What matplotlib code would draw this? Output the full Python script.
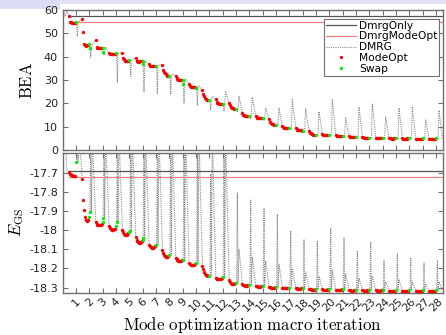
import matplotlib
matplotlib.use('Agg')
import matplotlib.pyplot as plt
import numpy as np
from matplotlib.lines import Line2D
from matplotlib.patches import Rectangle

plt.rcParams['mathtext.fontset'] = 'cm'
plt.rcParams['axes.unicode_minus'] = False
plt.rcParams['font.family'] = ['DejaVu Sans']

# ---------------- data ----------------
iterations = list(range(1, 29))
x_tick_labels = [str(k) for k in iterations]

bea_dmrg_only = 57.5
bea_dmrg_modeopt = 54.7
e_dmrg_only = -17.69
e_dmrg_modeopt = -17.724

bea_init_dmrg = [60.5, 57.2, 59.5, 57.5]
e_init_dmrg = [-17.5, -17.5, -17.686, -17.695]

bea_modeopt = [
    [57.5, 54.7, 54.7, 54.6, 54.6, 54.6, 54.6, 54.6],
    [56.1, 50.6, 45.6, 45.0, 44.6, 44.8, 45.0, 45.2],
    [47.2, 44.0, 43.8, 43.7, 43.7, 43.8, 43.8, 43.9],
    [41.7, 41.3, 41.1, 41.0, 41.1, 41.2, 41.3, 41.3],
    [41.7, 39.5, 38.8, 38.3, 38.1, 38.1, 38.2, 38.3],
    [39.4, 38.3, 38.0, 37.9, 37.9, 38.0, 38.0, 38.1],
    [36.8, 36.2, 35.9, 35.8, 35.8, 35.9, 35.9, 36.0],
    [36.3, 34.5, 33.5, 32.8, 32.4, 32.1, 31.9, 31.9],
    [31.9, 30.8, 30.3, 30.1, 30.0, 30.0, 30.1, 30.2],
    [28.1, 27.3, 27.0, 26.9, 26.9, 26.9, 27.0, 27.0],
    [25.6, 24.0, 23.0, 22.3, 21.9, 21.6, 21.4, 21.3],
    [21.9, 20.6, 20.2, 20.0, 19.9, 19.9, 19.9, 19.9],
    [20.1, 19.2, 18.6, 18.2, 17.9, 17.8, 17.7, 17.6],
    [15.8, 15.1, 14.8, 14.6, 14.5, 14.5, 14.4, 14.4],
    [14.4, 14.0, 13.8, 13.7, 13.7, 13.7, 13.7, 13.7],
    [13.2, 12.2, 11.7, 11.3, 11.1, 11.0, 10.9, 10.8],
    [10.1, 9.7, 9.5, 9.4, 9.4, 9.4, 9.4, 9.4],
    [9.4, 8.9, 8.7, 8.6, 8.5, 8.4, 8.4, 8.3],
    [8.2, 7.5, 7.1, 6.9, 6.7, 6.6, 6.5, 6.5],
    [6.8, 6.6, 6.5, 6.5, 6.5, 6.5, 6.5, 6.5],
    [6.5, 6.2, 6.1, 6.0, 6.0, 6.0, 6.0, 6.0],
    [6.0, 5.7, 5.6, 5.5, 5.5, 5.5, 5.5, 5.5],
    [5.5, 5.4, 5.3, 5.3, 5.3, 5.3, 5.3, 5.3],
    [5.3, 5.3, 5.2, 5.2, 5.2, 5.2, 5.2, 5.2],
    [5.1, 5.0, 5.0, 4.9, 4.9, 4.9, 5.0, 5.0],
    [5.0, 4.9, 4.9, 4.9, 4.9, 4.9, 5.0, 5.0],
    [4.9, 4.8, 4.8, 4.8, 4.8, 4.8, 4.8, 4.9],
    [4.9, 4.8, 4.8, 4.8, 4.8, 4.8, 4.8, 4.9],
]
bea_swap = [
    [54.7], [45.6, 43.9], [43.9, 42.0], [41.4], [38.4], [38.1, 36.7], [36.0],
    [31.9], [30.2, 28.5], [26.6], [21.3], [19.9], [17.6], [14.4], [13.7],
    [10.8], [9.4], [8.3], [6.5], [6.5], [6.0], [5.5], [5.3], [5.3], [5.0],
    [5.1], [5.0], [5.0],
]
bea_dmrg_lo = [48.8, 39.7, 40.5, 29.0, 31.5, 24.7, 24.0, 23.7, 20.0, 19.0,
               17.0, 16.5, 16.5, 13.5, 12.8, 10.0, 8.8, 7.8, 6.0, 6.0,
               5.5, 5.0, 4.8, 4.8, 4.6, 4.6, 4.5, 4.5]
bea_dmrg_hi = [54.7, 45.0, 44.0, 41.5, 39.0, 38.0, 36.5, 32.5, 30.5, 27.5,
               23.0, 25.2, 23.0, 22.7, 18.0, 18.0, 21.6, 17.6, 16.5, 21.6,
               13.7, 18.4, 19.9, 14.1, 18.0, 18.4, 13.2, 17.0]

e_modeopt = [
    [-17.695, -17.708, -17.712, -17.714, -17.715, -17.716, -17.717, -17.717],
    [-17.735, -17.843, -17.895, -17.930, -17.947, -17.952, -17.950, -17.945],
    [-17.960, -17.968, -17.972, -17.974, -17.975, -17.974, -17.972, -17.970],
    [-17.978, -17.988, -17.995, -17.999, -18.000, -17.999, -17.996, -17.992],
    [-17.999, -18.010, -18.018, -18.024, -18.027, -18.026, -18.022, -18.016],
    [-18.037, -18.050, -18.059, -18.064, -18.066, -18.065, -18.062, -18.057],
    [-18.077, -18.084, -18.088, -18.091, -18.092, -18.091, -18.089, -18.085],
    [-18.103, -18.118, -18.128, -18.135, -18.139, -18.140, -18.138, -18.134],
    [-18.147, -18.152, -18.156, -18.159, -18.160, -18.160, -18.159, -18.158],
    [-18.173, -18.178, -18.181, -18.183, -18.184, -18.183, -18.181, -18.178],
    [-18.190, -18.205, -18.218, -18.227, -18.233, -18.237, -18.239, -18.239],
    [-18.251, -18.254, -18.256, -18.257, -18.257, -18.256, -18.254, -18.250],
    [-18.263, -18.270, -18.276, -18.280, -18.282, -18.282, -18.280, -18.277],
    [-18.281, -18.285, -18.288, -18.290, -18.291, -18.290, -18.289, -18.287],
    [-18.291, -18.293, -18.294, -18.295, -18.296, -18.295, -18.293, -18.291],
    [-18.295, -18.298, -18.300, -18.302, -18.303, -18.302, -18.300, -18.299],
    [-18.302, -18.303, -18.304, -18.304, -18.304, -18.304, -18.303, -18.301],
    [-18.303, -18.304, -18.305, -18.306, -18.306, -18.305, -18.304, -18.303],
    [-18.305, -18.308, -18.310, -18.312, -18.312, -18.312, -18.311, -18.310],
    [-18.310, -18.311, -18.312, -18.312, -18.312, -18.312, -18.311, -18.310],
    [-18.311, -18.312, -18.313, -18.313, -18.313, -18.312, -18.311, -18.310],
    [-18.313, -18.315, -18.316, -18.316, -18.316, -18.316, -18.315, -18.313],
    [-18.314, -18.315, -18.316, -18.316, -18.316, -18.316, -18.315, -18.314],
    [-18.314, -18.315, -18.316, -18.316, -18.316, -18.316, -18.315, -18.314],
    [-18.316, -18.317, -18.318, -18.318, -18.318, -18.318, -18.317, -18.316],
    [-18.316, -18.317, -18.318, -18.318, -18.318, -18.318, -18.317, -18.316],
    [-18.316, -18.317, -18.318, -18.318, -18.318, -18.318, -18.317, -18.316],
    [-18.316, -18.317, -18.318, -18.318, -18.318, -18.318, -18.317, -18.316],
]
e_swap = [
    [-17.646], [-17.930, -17.903], [-17.960, -17.938], [-17.978, -17.956],
    [-18.008, -18.003], [-18.050, -18.043], [-18.077], [-18.130], [-18.156],
    [-18.173], [-18.239], [-18.246], [-18.274], [-18.286], [-18.290],
    [-18.298], [-18.300], [-18.302], [-18.309], [-18.309], [-18.309],
    [-18.312], [-18.312], [-18.312], [-18.314], [-18.314], [-18.314], [-18.314],
]
e_dmrg_top1 = [-17.5, -17.5, -17.5, -17.5, -17.5, -17.5, -17.5, -17.5, -17.5,
               -17.5, -17.707, -17.5, -17.804, -17.843, -17.886, -17.916,
               -18.003, -18.048, -18.055, -17.987, -18.041, -18.107, -18.060,
               -18.159, -18.124, -18.142, -18.170, -18.159]
e_dmrg_top2 = [-17.5, -17.5, -17.5, -17.5, -17.5, -17.5, -17.5, -17.5, -17.5,
               -17.5, -17.5, -17.5, -18.10, -18.14, -18.16, -18.18,
               -18.20, -18.22, -18.24, -18.21, -18.23, -18.25, -18.24,
               -18.27, -18.26, -18.27, -18.28, -18.27]

# ---------------- layout / style ----------------
W, H = 446, 335
fig = plt.figure(figsize=(W / 100, H / 100), dpi=100)
fig.patches.append(Rectangle((0, 1 - 3.5 / H), 1, 3.5 / H, transform=fig.transFigure,
                             facecolor='#e2e2f6', edgecolor='none', zorder=-5))
fig.patches.append(Rectangle((0, 1 - 9 / H), 60 / W, 9 / H, transform=fig.transFigure,
                             facecolor='#dcdcf4', edgecolor='none', zorder=-5))

ax1 = fig.add_axes([62.7 / W, 1 - 150 / H, 380 / W, 140 / H])
ax2 = fig.add_axes([62.7 / W, 1 - 293.3 / H, 380 / W, 140.8 / H])

c_spine = '#707070'
c_dmrgonly = '#555555'
c_dmrgmode = '#f08080'
c_dmrg = '#8c8c8c'
c_red = '#ff0000'
c_green = '#00ee00'

mode_offsets = np.linspace(-0.52, -0.08, 8)
swap_offsets = [0.0, 0.04]
dmrg_offsets = np.array([0.04, 0.1, 0.15, 0.22, 0.48])
init_offsets = np.array([0.02, 0.2, 0.3, 0.48])

ms = 2.4

for ax, mode, swap, init, only, mopt in [
        (ax1, bea_modeopt, bea_swap, bea_init_dmrg, bea_dmrg_only, bea_dmrg_modeopt),
        (ax2, e_modeopt, e_swap, e_init_dmrg, e_dmrg_only, e_dmrg_modeopt)]:
    ax.plot([0.45, 28.5], [only, only], color=c_dmrgonly, lw=0.9, zorder=2)
    ax.plot([0.45, 28.5], [mopt, mopt], color=c_dmrgmode, lw=0.9, zorder=2)
    ax.plot(init_offsets, init, color=c_dmrg, lw=0.8, ls=(0, (1, 1)), zorder=1)
    for i, k in enumerate(iterations):
        last = swap[i][-1]
        nxt = mode[i + 1][0] if i + 1 < len(iterations) else last
        if ax is ax1:
            trace = [last, bea_dmrg_lo[i], last, bea_dmrg_hi[i], nxt]
        else:
            trace = [last, e_dmrg_top1[i], last, e_dmrg_top2[i], nxt]
        ax.plot(k + dmrg_offsets, trace, color=c_dmrg, lw=0.8, ls=(0, (1, 1)), zorder=1)
        ax.plot(k + mode_offsets, mode[i], ls='none', marker='o', ms=ms,
                mfc=c_red, mec='none', zorder=3)
        ax.plot(k + np.array(swap_offsets[:len(swap[i])]), swap[i], ls='none',
                marker='o', ms=ms, mfc=c_green, mec='none', zorder=4)

for ax in (ax1, ax2):
    ax.set_xlim(0, 28.5)
    ax.set_xticks(iterations)
    for s in ax.spines.values():
        s.set_color(c_spine)
        s.set_linewidth(1.0)
    ax.tick_params(direction='in', top=True, right=True, color=c_spine,
                   length=3.5, width=0.8, labelsize=8, labelcolor='#222222')

ax1.set_ylim(0, 60)
ax1.set_yticks([0, 10, 20, 30, 40, 50, 60])
ax1.set_xticklabels([])
ax1.set_ylabel(r'$\mathrm{BEA}$', fontsize=12)
ax1.yaxis.set_label_coords(-0.07, 0.5)

ax2.set_ylim(-18.33, -17.595)
e_ticks = [-17.7, -17.8, -17.9, -18.0, -18.1, -18.2, -18.3]
ax2.set_yticks(e_ticks)
ax2.set_yticklabels(['%g' % t for t in e_ticks])
ax2.set_xticklabels(x_tick_labels, rotation=45, ha='center')
ax2.tick_params(axis='x', pad=2)
ax2.set_ylabel(r'$E_{\rm GS}$', fontsize=12)
ax2.yaxis.set_label_coords(-0.097, 0.5)
ax2.set_xlabel(r'$\mathrm{Mode\ optimization\ macro\ iteration}$', fontsize=12.2,
               labelpad=1)

handles = [
    Line2D([], [], color=c_dmrgonly, lw=0.9),
    Line2D([], [], color=c_dmrgmode, lw=0.9),
    Line2D([], [], color=c_dmrg, lw=0.8, ls=(0, (1, 1))),
    Line2D([], [], ls='none', marker='o', ms=ms, mfc=c_red, mec='none'),
    Line2D([], [], ls='none', marker='o', ms=ms, mfc=c_green, mec='none'),
]
labels = ['DmrgOnly', 'DmrgModeOpt', 'DMRG', 'ModeOpt', 'Swap']
leg = ax1.legend(handles, labels, loc='upper right', fontsize=7.7, frameon=True,
                 fancybox=False, framealpha=1, edgecolor=c_spine,
                 handlelength=2.8, handletextpad=0.3, labelspacing=0.08,
                 borderpad=0.15, borderaxespad=0,
                 bbox_to_anchor=(0.990, 0.936))
leg.get_frame().set_linewidth(0.8)

fig.savefig('out.png', dpi=100)
